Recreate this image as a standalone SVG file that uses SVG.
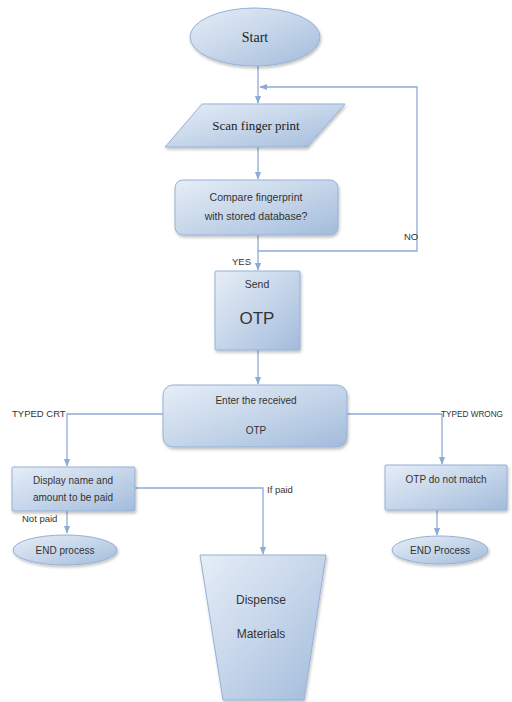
<svg xmlns="http://www.w3.org/2000/svg" width="512" height="702" viewBox="0 0 512 702">
<defs>
<linearGradient id="g" x1="0" y1="0" x2="1" y2="1">
<stop offset="0" stop-color="#e6edf7"/>
<stop offset="0.5" stop-color="#c6d6ea"/>
<stop offset="1" stop-color="#a2bbdb"/>
</linearGradient>
<marker id="ah" viewBox="0 0 10 10" refX="9" refY="5" markerWidth="6" markerHeight="6" orient="auto">
<path d="M0,1 L10,5 L0,9 z" fill="#8eaad6"/>
</marker>
<filter id="sh" x="-10%" y="-10%" width="130%" height="130%">
<feGaussianBlur in="SourceAlpha" stdDeviation="1.5"/>
<feOffset dx="1" dy="2" result="b"/>
<feComponentTransfer><feFuncA type="linear" slope="0.25"/></feComponentTransfer>
<feMerge><feMergeNode/><feMergeNode in="SourceGraphic"/></feMerge>
</filter>
</defs>
<style>
.shape{fill:url(#g);stroke:#95b1d6;stroke-width:1;filter:url(#sh)}
.conn{fill:none;stroke:#8eaad6;stroke-width:1.3;marker-end:url(#ah)}
.serif{font-family:"Liberation Serif","DejaVu Serif",serif;fill:#222}
.sans{font-family:"Liberation Sans","DejaVu Sans",sans-serif;fill:#333}
.lbl{font-family:"Liberation Sans","DejaVu Sans",sans-serif;fill:#333;font-size:9.5px}
</style>
<rect width="512" height="702" fill="#ffffff"/>

<g id="connectors">
<path class="conn" d="M258,66 L258,103"/>
<path class="conn" d="M258,251 L417,251 L417,87 L260,87"/>
<path class="conn" d="M258,147 L258,179"/>
<path class="conn" d="M258,235 L258,270"/>
<path class="conn" d="M258,350 L258,384"/>
<path class="conn" d="M163,414 L67,414 L67,466"/>
<path class="conn" d="M347,414 L442,414 L442,464"/>
<path class="conn" d="M67,511 L67,533"/>
<path class="conn" d="M135,488 L263,488 L263,554"/>
<path class="conn" d="M437,510 L437,535"/>
<text class="lbl" x="404" y="240">NO</text>
<text class="lbl" x="232" y="265">YES</text>
<text class="lbl" x="12" y="417">TYPED CRT</text>
<text class="lbl" x="441" y="417" textLength="62" lengthAdjust="spacingAndGlyphs">TYPED WRONG</text>
<text class="lbl" x="267" y="493">If paid</text>
<text class="lbl" x="22" y="522">Not paid</text>
</g>

<g id="start">
<ellipse class="shape" cx="255" cy="37" rx="65" ry="29"/>
<text class="serif" x="255" y="42" font-size="14" text-anchor="middle">Start</text>
</g>

<g id="scan">
<polygon class="shape" points="202,104 345,104 307,147 165,147"/>
<text class="serif" x="256" y="130" font-size="13" text-anchor="middle">Scan finger print</text>
</g>

<g id="compare">
<rect class="shape" x="175" y="180" width="163" height="55" rx="8"/>
<text class="sans" x="256" y="201" font-size="10.5" text-anchor="middle">Compare fingerprint</text>
<text class="sans" x="256" y="220" font-size="10.5" text-anchor="middle">with stored database?</text>
</g>

<g id="send">
<rect class="shape" x="215" y="271" width="85" height="79" rx="1"/>
<text class="sans" x="257" y="288" font-size="10.5" text-anchor="middle">Send</text>
<text class="sans" x="257" y="324" font-size="17" text-anchor="middle">OTP</text>
</g>

<g id="enter">
<rect class="shape" x="163" y="385" width="184" height="62" rx="10"/>
<text class="sans" x="256" y="404" font-size="10" text-anchor="middle">Enter the received</text>
<text class="sans" x="256" y="434" font-size="10" text-anchor="middle">OTP</text>
</g>

<g id="display">
<rect class="shape" x="12" y="467" width="123" height="44" rx="1"/>
<text class="sans" x="73" y="484" font-size="10" text-anchor="middle">Display name and</text>
<text class="sans" x="73" y="501" font-size="10" text-anchor="middle">amount to be paid</text>
</g>

<g id="end1">
<ellipse class="shape" cx="65" cy="550" rx="52" ry="15"/>
<text class="sans" x="65" y="554" font-size="10" text-anchor="middle">END process</text>
</g>

<g id="mismatch">
<rect class="shape" x="385" y="465" width="122" height="45" rx="1"/>
<text class="sans" x="446" y="483" font-size="10" text-anchor="middle">OTP do not match</text>
</g>

<g id="end2">
<ellipse class="shape" cx="440" cy="550" rx="48" ry="14"/>
<text class="sans" x="440" y="554" font-size="10" text-anchor="middle">END Process</text>
</g>

<g id="dispense">
<polygon class="shape" points="200,555 326,555 304,700 223,700"/>
<text class="sans" x="261" y="604" font-size="12" text-anchor="middle">Dispense</text>
<text class="sans" x="261" y="638" font-size="12" text-anchor="middle">Materials</text>
</g>
</svg>
